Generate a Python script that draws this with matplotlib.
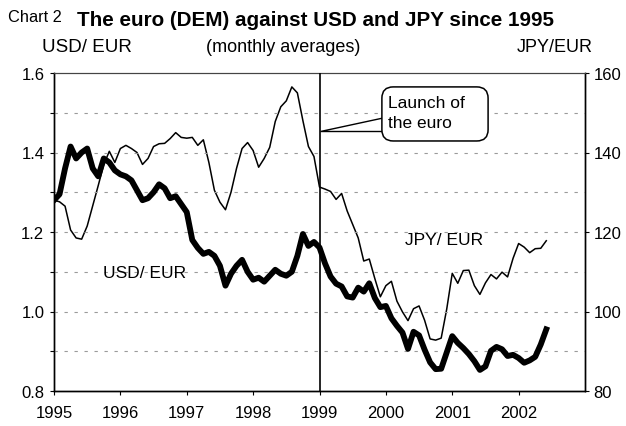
import numpy as np
import matplotlib
matplotlib.use("Agg")
import matplotlib.pyplot as plt
from matplotlib.ticker import MultipleLocator, FormatStrFormatter
from matplotlib.patches import FancyBboxPatch, Polygon

plt.rcParams['font.family'] = ['Liberation Sans', 'DejaVu Sans']

# monthly averages, Jan 1995 - Jun 2002
start_year = 1995
usd_eur = [1.280, 1.295, 1.360, 1.415, 1.385, 1.400, 1.410, 1.360, 1.340, 1.385, 1.375, 1.355,
           1.345, 1.340, 1.330, 1.305, 1.280, 1.285, 1.300, 1.320, 1.310, 1.285, 1.290, 1.270,
           1.250, 1.180, 1.160, 1.145, 1.150, 1.140, 1.115, 1.065, 1.095, 1.115, 1.130, 1.100,
           1.080, 1.085, 1.075, 1.090, 1.105, 1.095, 1.090, 1.100, 1.140, 1.195, 1.165, 1.175,
           1.161, 1.121, 1.088, 1.070, 1.063, 1.038, 1.035, 1.060, 1.050, 1.071, 1.034, 1.011,
           1.014, 0.983, 0.964, 0.947, 0.906, 0.949, 0.940, 0.904, 0.872, 0.855, 0.856, 0.897,
           0.938, 0.921, 0.908, 0.893, 0.875, 0.853, 0.862, 0.901, 0.911, 0.905, 0.888, 0.891,
           0.883, 0.871, 0.877, 0.886, 0.917, 0.955]
jpy_eur = [128.0, 127.6, 126.5, 120.5, 118.5, 118.2, 121.5, 126.6, 131.7, 137.0, 140.3, 137.5,
           141.0, 141.8, 141.0, 140.0, 137.0, 138.5, 141.5, 142.2, 142.3, 143.5, 145.0, 143.8,
           143.6, 143.8, 141.8, 143.2, 137.5, 130.5, 127.5, 125.6, 130.0, 136.0, 141.0, 142.5,
           140.5, 136.3, 138.5, 141.3, 147.8, 151.5, 153.0, 156.5, 155.0, 148.0, 141.5, 139.0,
           131.3, 130.8, 130.2, 128.2, 129.7, 125.3, 121.9, 118.5, 112.7, 113.2, 108.3, 103.7,
           106.5, 107.6, 102.6, 99.9, 97.7, 100.7, 101.4, 97.8, 93.1, 92.8, 93.3, 100.6,
           109.6, 107.1, 110.3, 110.4, 106.5, 104.3, 107.2, 109.3, 108.2, 109.9, 108.7, 113.4,
           117.1, 116.2, 114.8, 115.8, 115.9, 117.8]
years = list(range(1995, 2003))
launch_year = 1999

x = start_year + np.arange(len(usd_eur)) / 12.0

fig = plt.figure(figsize=(6.26, 4.27), dpi=100)
ax = fig.add_axes([54/626, 1-392/427, (585-54)/626, (392-74)/427])
ax2 = ax.twinx()

ax.set_xlim(1995, 2003)
ax.set_ylim(0.8, 1.6)
ax2.set_ylim(80, 160)

# dashed grid every 0.1
for g in np.arange(0.9, 1.55, 0.1):
    ax.axhline(g, color='#9a9a9a', lw=0.8, ls=(0, (3, 6)), zorder=0)

ax2.plot(x, jpy_eur, color='black', lw=1.1, zorder=3)
ax.plot(x, usd_eur, color='black', lw=4.2, zorder=3)
ax.set_zorder(ax2.get_zorder() + 1)
ax.patch.set_visible(False)

ax.axvline(launch_year, color='black', lw=1.2, zorder=4)

ax.set_xticks(years)
ax.set_xticklabels([str(y) for y in years])
ax.yaxis.set_major_locator(MultipleLocator(0.2))
ax.yaxis.set_minor_locator(MultipleLocator(0.1))
ax.yaxis.set_major_formatter(FormatStrFormatter('%.1f'))
ax2.yaxis.set_major_locator(MultipleLocator(20))

for a in (ax, ax2):
    a.tick_params(axis='both', which='both', direction='out', length=3, width=0.8,
                  labelsize=12, color='black')
ax.tick_params(axis='x', pad=7)
ax.tick_params(axis='y', which='both', pad=4)
ax2.tick_params(axis='y', pad=3)

for a in (ax, ax2):
    a.spines['top'].set_linestyle((0, (4, 1)))
    a.spines['top'].set_color('#444444')
    for s in ('left', 'right', 'bottom'):
        a.spines[s].set_linewidth(1.0)

ax.text(1995.74, 1.099, 'USD/ EUR', fontsize=12.5, va='center', ha='left')
ax.text(2000.29, 1.182, 'JPY/ EUR', fontsize=12.5, va='center', ha='left')

# callout box with wedge pointing at the launch line
box_x0, box_x1 = 1999.94, 2001.54
box_y0, box_y1 = 1.429, 1.565
wedge = Polygon([(launch_year, 1.454), (box_x0 + 0.05, 1.454), (box_x0 + 0.05, 1.489)],
                closed=True, fc='white', ec='black', lw=1.0, zorder=5)
ax.add_patch(wedge)
box = FancyBboxPatch((box_x0, box_y0), box_x1 - box_x0, box_y1 - box_y0,
                     boxstyle='round,pad=0,rounding_size=0.17',
                     mutation_aspect=(1/397.5)/(1/66.4),
                     fc='white', ec='black', lw=1.1, zorder=6)
ax.add_patch(box)
ax.text(2000.03, 1.500, 'Launch of\nthe euro', fontsize=12.5, ha='left', va='center',
        linespacing=1.4, zorder=7)

fig.text(8/626, 1-17/427, 'Chart 2', fontsize=11.8, va='center', ha='left')
fig.text(77/626, 1-20/427, 'The euro (DEM) against USD and JPY since 1995', fontsize=14.9,
         fontweight='bold', va='center', ha='left')
fig.text(42/626, 1-47/427, 'USD/ EUR', fontsize=13.5, va='center', ha='left')
fig.text(283/626, 1-47/427, '(monthly averages)', fontsize=13, va='center', ha='center')
fig.text(593/626, 1-47/427, 'JPY/EUR', fontsize=13, va='center', ha='right')

fig.savefig('out.png', dpi=100)
